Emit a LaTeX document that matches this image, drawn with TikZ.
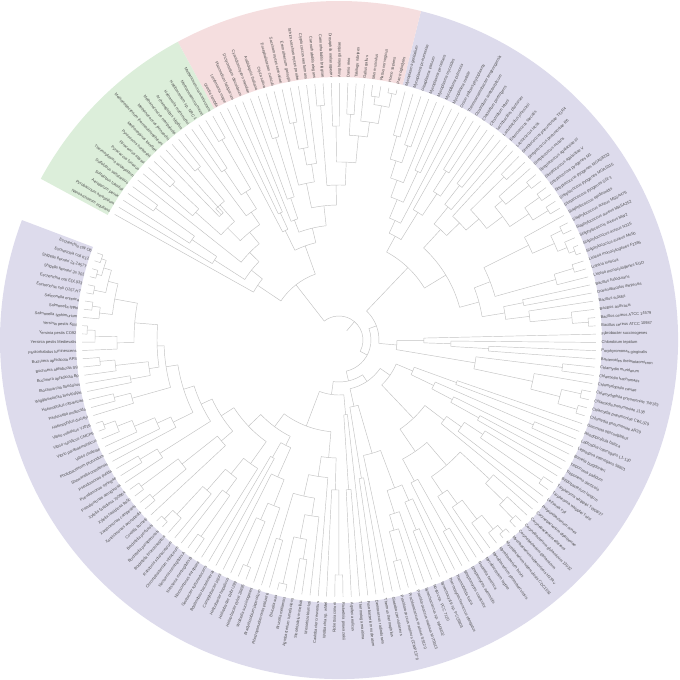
\documentclass[tikz,border=0pt]{standalone}
\usepackage{fontspec}
\newfontfamily\labelfont{Liberation Sans}

\definecolor{bactrange}{RGB}{221,219,236}
\definecolor{eukrange}{RGB}{245,222,223}
\definecolor{archrange}{RGB}{220,238,218}

% leaf placement
\newcount\leafcount
\def\firstang{160.2}\def\stepang{1.845}
\def\tipR{257}\def\labR{262}
\def\currad{12}\def\kmin{9999}\def\kmax{-9999}

\newcommand\addkid{%
  \draw[branch] (\retang:\currad pt) -- (\retang:\retrad pt);
  \pgfmathsetmacro\kmin{min(\kmin,\retang)}%
  \pgfmathsetmacro\kmax{max(\kmax,\retang)}}

\newcommand\leaf[1]{%
  \global\advance\leafcount by 1
  \pgfmathsetmacro\lfang{\firstang+(\the\leafcount-1)*\stepang}%
  \pgfmathtruncatemacro\rside{cos(\lfang)>=0}%
  \ifnum\rside=1
    \node[leaflabel, anchor=west, rotate=\lfang] (leaf\the\leafcount) at (\lfang:\labR pt) {#1};
  \else
    \node[leaflabel, anchor=east, rotate=\lfang+180] (leaf\the\leafcount) at (\lfang:\labR pt) {#1};
  \fi
  \xdef\retang{\lfang}\xdef\retrad{\tipR}%
  \addkid}

\newcommand\clade[2]{%
  \begingroup
    \def\currad{#1}\def\kmin{9999}\def\kmax{-9999}%
    #2%
    \draw[branch] (\kmin:\currad pt) arc[start angle=\kmin, end angle=\kmax, radius=\currad pt];
    \pgfmathsetmacro\cmid{(\kmin+\kmax)/2}%
    \xdef\retang{\cmid}\xdef\retrad{\currad}%
  \endgroup
  \addkid}

\begin{document}
\begin{tikzpicture}[
  branch/.style={draw=black!24, line width=0.45pt},
  leaflabel/.style={font=\labelfont\fontsize{4pt}{4.6pt}\selectfont, text=black!70, inner sep=0.5pt}]
\useasboundingbox (-339pt,-340pt) rectangle (341pt,340pt);
% coloured ranges
\fill[bactrange] (159.28:263pt) arc[start angle=159.28, end angle=436.0, radius=263pt] -- (436.0:339pt) arc[start angle=436.0, end angle=159.28, radius=339pt] -- cycle;
\fill[eukrange] (436.0:263pt) arc[start angle=436.0, end angle=478.4, radius=263pt] -- (478.4:339pt) arc[start angle=478.4, end angle=436.0, radius=339pt] -- cycle;
\fill[archrange] (478.4:263pt) arc[start angle=478.4, end angle=511.6, radius=263pt] -- (511.6:339pt) arc[start angle=511.6, end angle=478.4, radius=339pt] -- cycle;
% the tree
\clade{24}{%
 \clade{32}{%
  \clade{42}{%
   \clade{55}{%
    \clade{92}{%
     \clade{108}{%
      \clade{125}{%
       \clade{140}{%
        \clade{152}{%
         \clade{163}{%
          \clade{175}{%
           \clade{182}{%
            \clade{205}{%
             \clade{228}{%
              \clade{238}{\clade{246}{\clade{251}{\leaf{Escherichia coli O6}\leaf{Escherichia coli K12}}\clade{251}{\leaf{Shigella flexneri 2a 2457T}\leaf{Shigella flexneri 2a 301}}}\clade{250}{\leaf{Escherichia coli EDL933}\leaf{Escherichia coli O157:H7}}}%
              \clade{241}{\clade{249}{\leaf{Salmonella enterica}\leaf{Salmonella typhi}}\leaf{Salmonella typhimurium}}}%
             \clade{222}{\clade{244}{\clade{252}{\leaf{Yersinia pestis KIM}\leaf{Yersinia pestis CO92}}\leaf{Yersinia pestis Medievalis}}\leaf{Photorhabdus luminescens}}}%
            \clade{192}{\clade{225}{\clade{240}{\leaf{Buchnera aphidicola APS}\leaf{Buchnera aphidicola Sg}}\leaf{Buchnera aphidicola Bp}}\clade{212}{\leaf{Blochmannia floridanus}\leaf{Wigglesworthia brevipalpis}}}}%
           \clade{215}{\clade{232}{\leaf{Haemophilus influenzae}\leaf{Pasteurella multocida}}\leaf{Haemophilus ducreyi}}}%
          \clade{185}{\clade{200}{\clade{222}{\clade{238}{\clade{250}{\leaf{Vibrio vulnificus YJ016}\leaf{Vibrio vulnificus CMCP6}}\leaf{Vibrio parahaemolyticus}}\leaf{Vibrio cholerae}}\leaf{Photobacterium profundum}}\leaf{Shewanella oneidensis}}}%
         \clade{212}{\clade{232}{\leaf{Pseudomonas putida}\leaf{Pseudomonas syringae}}\leaf{Pseudomonas aeruginosa}}}%
        \clade{155}{\clade{200}{\clade{246}{\leaf{Xylella fastidiosa 700964}\leaf{Xylella fastidiosa 9a5c}}\clade{244}{\leaf{Xanthomonas campestris}\leaf{Xanthomonas axonopodis}}}\leaf{Coxiella burnetii}}}%
       \clade{152}{\clade{172}{\clade{200}{\clade{238}{\clade{250}{\leaf{Bordetella pertussis}\leaf{Bordetella parapertussis}}\leaf{Bordetella bronchiseptica}}\leaf{Ralstonia solanacearum}}\clade{190}{\leaf{Chromobacterium violaceum}\clade{240}{\leaf{Neisseria meningitidis A}\leaf{Neisseria meningitidis B}}}}\leaf{Nitrosomonas europaea}}}%
      \clade{118}{\clade{135}{\leaf{Geobacter sulfurreducens}\leaf{Bdellovibrio bacteriovorus}}\clade{150}{\leaf{Campylobacter jejuni}\clade{178}{\clade{196}{\leaf{Helicobacter hepaticus}\clade{244}{\leaf{Helicobacter pylori J99}\leaf{Helicobacter pylori 26695}}}\leaf{Wolinella succinogenes}}}}}%
     \clade{118}{\clade{138}{\clade{160}{\clade{208}{\leaf{Bradyrhizobium japonicum}\leaf{Rhodopseudomonas palustris}}\clade{178}{\clade{202}{\clade{250}{\leaf{Brucella suis}\leaf{Brucella melitensis}}\clade{222}{\leaf{Agrobacterium tumefaciens}\leaf{Sinorhizobium meliloti}}}\leaf{Mesorhizobium loti}}}\leaf{Caulobacter crescentus}}\clade{150}{\leaf{Wolbachia sp. wMel}\clade{235}{\leaf{Rickettsia conorii}\leaf{Rickettsia prowazekii}}}}}%
    \clade{75}{\clade{150}{\leaf{Aquifex aeolicus}\leaf{Thermotoga maritima}}\leaf{Fusobacterium nucleatum}}}%
   \clade{50}{%
    \clade{68}{\clade{140}{\leaf{Deinococcus radiodurans}\leaf{Thermus thermophilus}}%
     \clade{118}{\leaf{Gloeobacter violaceus}\clade{158}{\clade{182}{\clade{198}{\clade{228}{\leaf{Prochlorococcus marinus CCMP1378}\leaf{Prochlorococcus marinus SS120}}\leaf{Prochlorococcus marinus MIT9313}}\leaf{Synechococcus sp. WH8102}}\clade{175}{\clade{205}{\leaf{Nostoc sp. PCC 7120}\leaf{Synechocystis sp. PCC6803}}\leaf{Thermosynechococcus elongatus}}}}}%
    \clade{62}{%
     \clade{108}{\clade{135}{\clade{160}{\leaf{Thermobifida fusca}\clade{218}{\leaf{Streptomyces coelicolor}\leaf{Streptomyces avermitilis}}}\clade{165}{\clade{185}{\leaf{Nocardia farcinica}\clade{202}{\leaf{Mycobacterium leprae}\clade{226}{\leaf{Mycobacterium paratuberculosis}\clade{244}{\leaf{Mycobacterium bovis}\clade{252}{\leaf{Mycobacterium tuberculosis CDC1551}\leaf{Mycobacterium tuberculosis H37Rv}}}}}}\clade{205}{\clade{230}{\clade{249}{\leaf{Corynebacterium glutamicum}\leaf{Corynebacterium glutamicum 13032}}\leaf{Corynebacterium efficiens}}\leaf{Corynebacterium diphtheriae}}}}%
      \clade{132}{\leaf{Propionibacterium acnes}\clade{150}{\leaf{Leifsonia xyli}\clade{172}{\clade{246}{\leaf{Tropheryma whipplei Twist}\leaf{Tropheryma whipplei TW08/27}}\leaf{Bifidobacterium longum}}}}}%
     \clade{80}{\clade{105}{\clade{128}{\clade{160}{\leaf{Treponema denticola}\leaf{Treponema pallidum}}\leaf{Borrelia burgdorferi}}\clade{212}{\leaf{Leptospira interrogans 56601}\leaf{Leptospira interrogans L1-130}}}%
      \clade{125}{\leaf{Rhodopirellula baltica}\leaf{Gemmata obscuriglobus}}}}}}%
  \clade{40}{%
   \clade{58}{%
    \clade{138}{\clade{198}{\clade{228}{\clade{248}{\leaf{Chlamydia pneumoniae AR39}\leaf{Chlamydia pneumoniae CWL029}}\clade{248}{\leaf{Chlamydia pneumoniae J138}\leaf{Chlamydophila pneumoniae TW183}}}\leaf{Chlamydophila caviae}}\clade{225}{\leaf{Chlamydia trachomatis}\leaf{Chlamydia muridarum}}}%
    \clade{85}{\clade{112}{\clade{150}{\leaf{Bacteroides thetaiotaomicron}\leaf{Porphyromonas gingivalis}}\leaf{Chlorobium tepidum}}\leaf{Fibrobacter succinogenes}}}%
   \clade{100}{%
    \clade{125}{%
     \clade{145}{%
      \clade{168}{\clade{192}{\clade{234}{\clade{250}{\leaf{Bacillus cereus ATCC 10987}\leaf{Bacillus cereus ATCC 14579}}\leaf{Bacillus anthracis}}\leaf{Bacillus subtilis}}\clade{188}{\leaf{Oceanobacillus iheyensis}\leaf{Bacillus halodurans}}}%
      \clade{162}{\clade{225}{\leaf{Listeria monocytogenes EGD}\clade{245}{\leaf{Listeria innocua}\leaf{Listeria monocytogenes F2365}}}\clade{212}{\clade{236}{\clade{246}{\clade{252}{\leaf{Staphylococcus aureus Mu50}\leaf{Staphylococcus aureus N315}}\leaf{Staphylococcus aureus MW2}}\clade{248}{\leaf{Staphylococcus aureus MRSA252}\leaf{Staphylococcus aureus MSSA476}}}\leaf{Staphylococcus epidermidis}}}}%
     \clade{150}{%
      \clade{168}{\clade{185}{\clade{205}{\clade{228}{\clade{246}{\leaf{Streptococcus pyogenes SSI-1}\leaf{Streptococcus pyogenes MGAS315}}\clade{246}{\leaf{Streptococcus pyogenes MGAS8232}\leaf{Streptococcus pyogenes M1}}}\clade{215}{\clade{245}{\leaf{Streptococcus agalactiae V}\leaf{Streptococcus agalactiae III}}\leaf{Streptococcus mutans}}}\clade{232}{\leaf{Streptococcus pneumoniae R6}\leaf{Streptococcus pneumoniae TIGR4}}}\leaf{Lactococcus lactis}}%
      \clade{172}{\leaf{Enterococcus faecalis}\clade{196}{\leaf{Lactobacillus johnsonii}\leaf{Lactobacillus plantarum}}}}}%
    \clade{118}{%
     \clade{150}{\clade{176}{\leaf{Clostridium tetani}\clade{200}{\leaf{Clostridium perfringens}\leaf{Clostridium acetobutylicum}}}\leaf{Thermoanaerobacter tengcongensis}}%
     \clade{132}{\leaf{Onion yellows phytoplasma}\clade{152}{\clade{186}{\leaf{Mycoplasma mobile}\leaf{Mycoplasma pulmonis}}\clade{170}{\leaf{Mycoplasma mycoides}\clade{188}{\clade{206}{\leaf{Mycoplasma penetrans}\leaf{Ureaplasma parvum}}\clade{212}{\leaf{Mycoplasma pneumoniae}\leaf{Mycoplasma genitalium}}}}}}}}}}%
 \clade{70}{%
  \clade{100}{%
   \clade{115}{%
    \clade{135}{%
     \clade{155}{\clade{178}{\clade{205}{\clade{220}{\clade{238}{\clade{252}{\leaf{Pan troglodytes}\leaf{Homo sapiens}}\clade{246}{\leaf{Rattus norvegicus}\leaf{Mus musculus}}}\leaf{Gallus gallus}}\clade{226}{\leaf{Takifugu rubripes}\leaf{Danio rerio}}}\clade{214}{\leaf{Anopheles gambiae}\leaf{Drosophila melanogaster}}}\clade{235}{\leaf{Caenorhabditis briggsae}\leaf{Caenorhabditis elegans}}}%
     \clade{160}{\clade{178}{\leaf{Cryptococcus neoformans}\clade{195}{\leaf{Schizosaccharomyces pombe}\clade{222}{\leaf{Eremothecium gossypii}\leaf{Saccharomyces cerevisiae}}}}\leaf{Encephalitozoon cuniculi}}}%
    \clade{128}{\clade{150}{\clade{212}{\leaf{Oryza sativa}\leaf{Arabidopsis thaliana}}\leaf{Cyanidioschyzon merolae}}\leaf{Dictyostelium discoideum}}}%
   \clade{122}{\clade{140}{\leaf{Plasmodium falciparum}\leaf{Leishmania major}}\leaf{Giardia lamblia}}}%
  \clade{98}{%
   \clade{112}{%
    \clade{125}{%
     \clade{140}{%
      \clade{155}{\clade{175}{\clade{232}{\leaf{Methanosarcina acetivorans}\leaf{Methanosarcina mazei}}\clade{205}{\leaf{Halobacterium sp. NRC-1}\leaf{Haloarcula marismortui}}}\leaf{Archaeoglobus fulgidus}}%
      \clade{158}{\clade{180}{\clade{222}{\leaf{Methanococcus maripaludis}\leaf{Methanococcus jannaschii}}\clade{172}{\leaf{Methanobacterium thermautotrophicum}\leaf{Methanopyrus kandleri}}}\clade{192}{\clade{228}{\leaf{Pyrococcus horikoshii}\leaf{Pyrococcus abyssi}}\leaf{Pyrococcus furiosus}}}}%
     \leaf{Thermoplasma acidophilum}}%
    \clade{148}{\clade{178}{\clade{226}{\leaf{Sulfolobus solfataricus}\leaf{Sulfolobus tokodaii}}\leaf{Aeropyrum pernix}}\leaf{Pyrobaculum aerophilum}}}%
   \leaf{Nanoarchaeum equitans}}}}
\end{tikzpicture}
\end{document}
